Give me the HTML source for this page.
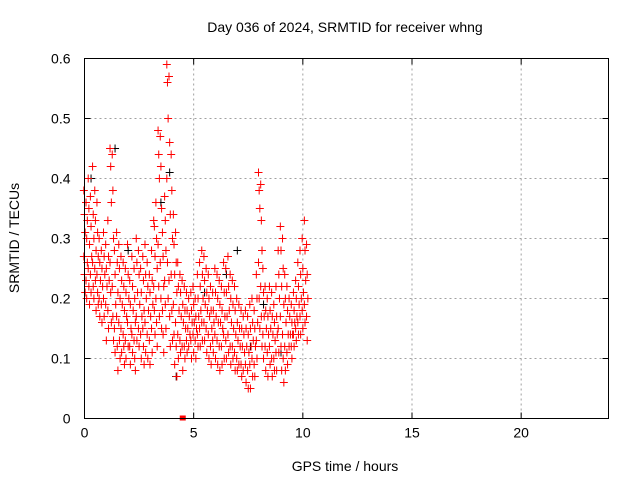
<!DOCTYPE html>
<html><head><meta charset="utf-8"><style>
html,body{margin:0;padding:0;background:#fff;}
svg{display:block;font-family:"Liberation Sans",sans-serif;}
</style></head><body>
<svg id="chart" width="640" height="480" viewBox="0 0 640 480" xmlns="http://www.w3.org/2000/svg">
<text x="345" y="32" font-size="14" text-anchor="middle" fill="#000">Day 036 of 2024, SRMTID for receiver whng</text>
<g id="grid"></g>
<g id="axes"></g>
<g id="marks"></g>
<rect x="84.5" y="58.5" width="524" height="360" fill="none" stroke="#000" stroke-width="1"/>
<text x="345" y="471" font-size="14" text-anchor="middle">GPS time / hours</text>
<text transform="translate(19,238) rotate(-90)" font-size="14" text-anchor="middle">SRMTID / TECUs</text>
</svg>
<script>
const xTicks=[0,5,10,15,20];
const yTicks=[0,0.1,0.2,0.3,0.4,0.5,0.6];
const yTickLabels=["0","0.1","0.2","0.3","0.4","0.5","0.6"];
const gpsTimes=[0.0,0.1,0.2,0.3,0.4,0.5,0.6,0.7,0.8,0.9,1.0,1.1,1.2,1.3,1.4,1.5,1.6,1.7,1.8,1.9,2.0,2.1,2.2,2.3,2.4,2.5,2.6,2.7,2.8,2.9,3.0,3.1,3.2,3.3,3.4,3.5,3.6,3.7,3.8,3.9,4.0,4.1,4.2,4.3,4.4,4.5,4.6,4.7,4.8,4.9,5.0,5.1,5.2,5.3,5.4,5.5,5.6,5.7,5.8,5.9,6.0,6.1,6.2,6.3,6.4,6.5,6.6,6.7,6.8,6.9,7.0,7.1,7.2,7.3,7.4,7.5,7.6,7.7,7.8,7.9,8.0,8.1,8.2,8.3,8.4,8.5,8.6,8.7,8.8,8.9,9.0,9.1,9.2,9.3,9.4,9.5,9.6,9.7,9.8,9.9,10.0,10.1,10.2];
const srmtidValues=[
[0.38,0.34,0.31,0.27,0.24,0.21],[0.36,0.30,0.26,0.23,0.20,0.33],[0.40,0.35,0.29,0.25,0.22,0.19],[0.37,0.32,0.27,0.24,0.21],[0.42,0.34,0.30,0.26,0.22,0.20],
[0.38,0.33,0.28,0.25,0.23,0.18],[0.36,0.31,0.27,0.24,0.21,0.19],[0.30,0.26,0.23,0.20,0.17],[0.28,0.25,0.22,0.19,0.16],[0.31,0.27,0.24,0.20,0.17],
[0.29,0.25,0.22,0.19,0.13],[0.33,0.27,0.23,0.18,0.15],[0.45,0.42,0.36,0.26,0.21,0.16],[0.44,0.38,0.30,0.22,0.17,0.13],[0.28,0.24,0.19,0.15,0.11],
[0.31,0.26,0.21,0.17,0.12,0.08],[0.29,0.25,0.20,0.16,0.13,0.10],[0.27,0.23,0.19,0.15,0.11],[0.26,0.22,0.18,0.14,0.12,0.09],[0.25,0.21,0.17,0.13,0.10],
[0.29,0.24,0.20,0.16,0.12],[0.23,0.19,0.15,0.12,0.09],[0.27,0.22,0.18,0.14,0.11],[0.25,0.20,0.16,0.13,0.10,0.08],[0.30,0.26,0.21,0.17,0.13],
[0.28,0.24,0.19,0.15,0.12],[0.25,0.21,0.17,0.14,0.10],[0.27,0.23,0.18,0.15,0.12,0.09],[0.29,0.24,0.20,0.16,0.11],[0.26,0.22,0.18,0.14,0.10],
[0.24,0.21,0.17,0.13,0.09],[0.28,0.23,0.19,0.15,0.11],[0.33,0.32,0.27,0.22,0.18,0.14],[0.36,0.30,0.25,0.20,0.16,0.12],[0.48,0.44,0.40,0.29,0.22,0.17],
[0.47,0.42,0.35,0.26,0.20,0.15],[0.31,0.27,0.22,0.18,0.14,0.11],[0.37,0.33,0.28,0.23,0.19,0.15],[0.59,0.56,0.50,0.40,0.26,0.20],[0.57,0.46,0.34,0.23,0.17,0.12],
[0.44,0.38,0.30,0.24,0.18,0.13],[0.34,0.29,0.24,0.19,0.14,0.09],[0.31,0.26,0.21,0.16,0.12,0.07],[0.26,0.22,0.18,0.14,0.10],[0.24,0.21,0.17,0.13,0.11],
[0.23,0.19,0.16,0.12,0.08],[0.22,0.18,0.15,0.12,0.10],[0.21,0.18,0.15,0.13,0.11],[0.20,0.17,0.14,0.12],[0.21,0.18,0.16,0.13,0.10],
[0.22,0.19,0.16,0.14,0.11],[0.20,0.17,0.15,0.13,0.10],[0.24,0.20,0.17,0.14,0.12],[0.26,0.22,0.18,0.15,0.12],[0.28,0.24,0.20,0.16,0.13],
[0.27,0.23,0.19,0.16,0.13],[0.25,0.21,0.18,0.15,0.11],[0.24,0.20,0.17,0.14,0.10],[0.22,0.18,0.15,0.12,0.09],[0.21,0.18,0.16,0.13,0.11],
[0.25,0.21,0.17,0.14,0.10],[0.24,0.20,0.16,0.13,0.09],[0.23,0.19,0.16,0.12,0.08],[0.22,0.18,0.15,0.12,0.09],[0.26,0.21,0.17,0.14,0.10],
[0.25,0.21,0.17,0.13,0.10],[0.27,0.22,0.18,0.14,0.11],[0.24,0.20,0.16,0.12,0.09],[0.23,0.19,0.15,0.12,0.10],[0.22,0.18,0.14,0.11,0.08],
[0.20,0.16,0.13,0.10,0.08],[0.19,0.15,0.12,0.09],[0.18,0.15,0.12,0.09,0.07],[0.17,0.14,0.11,0.08],[0.18,0.15,0.12,0.09,0.06],
[0.17,0.14,0.11,0.08,0.05],[0.19,0.15,0.12,0.09,0.05],[0.20,0.16,0.13,0.10,0.07],[0.18,0.15,0.12,0.09,0.07],[0.24,0.20,0.16,0.13,0.10],
[0.41,0.38,0.35,0.26,0.20,0.15],[0.39,0.33,0.28,0.22,0.17,0.12],[0.25,0.21,0.17,0.14,0.10],[0.22,0.18,0.15,0.12,0.08],[0.20,0.17,0.14,0.11,0.07],
[0.22,0.18,0.15,0.12,0.09],[0.21,0.17,0.14,0.10,0.07],[0.19,0.16,0.13,0.10,0.08],[0.22,0.17,0.14,0.11,0.08],[0.28,0.24,0.20,0.15,0.11],
[0.32,0.28,0.22,0.17,0.12,0.08],[0.30,0.25,0.19,0.14,0.10,0.06],[0.24,0.20,0.16,0.12,0.08],[0.22,0.18,0.14,0.11,0.09],[0.20,0.17,0.14,0.12],
[0.19,0.16,0.14,0.12,0.10],[0.21,0.18,0.16,0.14,0.12],[0.23,0.20,0.17,0.15,0.13],[0.26,0.22,0.19,0.16,0.14],[0.28,0.24,0.20,0.17,0.14],
[0.30,0.25,0.21,0.18,0.15],[0.33,0.28,0.23,0.19,0.16],[0.29,0.24,0.20,0.17,0.13]
];
const blackTimes=[0.3,1.4,2.0,3.5,3.9,4.2,5.5,6.5,7.0,7.6,8.2,9.0];
const blackValues=[0.40,0.45,0.28,0.36,0.41,0.07,0.21,0.24,0.28,0.12,0.19,0.11];
const zeroTimes=[4.5];
const zeroValues=[0];

const L=84.5,R=608.5,T=58.5,B=418.5,XMAX=24,YMAX=0.6;
const xs=t=>L+(t/XMAX)*(R-L);
const ys=v=>B-(v/YMAX)*(B-T);
const NS="http://www.w3.org/2000/svg";
function mk(tag,attrs,parent){const e=document.createElementNS(NS,tag);for(const k in attrs)e.setAttribute(k,attrs[k]);parent.appendChild(e);return e;}
const grid=document.getElementById('grid'),axes=document.getElementById('axes'),marks=document.getElementById('marks');
xTicks.forEach(t=>{
  const x=xs(t);
  if(t>0){const g=mk('line',{x1:x,x2:x,y1:T,y2:B,stroke:'#a0a0a0','stroke-dasharray':'2,3'},grid);
  
  }
  const a=mk('path',{d:`M${x},${B}v-6M${x},${T}v6`,stroke:'#000'},axes);
  
  
  const tx=mk('text',{x:x,y:B+19,'font-size':14,'text-anchor':'middle'},axes);tx.textContent=t;
  
  
});
yTicks.forEach((v,i)=>{
  const y=ys(v);
  if(v>0&&v<YMAX){const g=mk('line',{x1:L,x2:R,y1:y,y2:y,stroke:'#a0a0a0','stroke-dasharray':'2,3'},grid);
  
  }
  const a=mk('path',{d:`M${L},${y}h6M${R},${y}h-6`,stroke:'#000'},axes);
  
  
  const tx=mk('text',{x:L-14,y:y+5,'font-size':14,'text-anchor':'end'},axes);tx.textContent=yTickLabels[i];
  
  
});
function plus(t,v,color,name){
  const x=xs(t),y=ys(v);
  const p=mk('path',{d:`M${x-4},${y}h8M${x},${y-4}v8`,stroke:color,'stroke-width':1},marks);
  
  
}
blackTimes.forEach((t,i)=>plus(t,blackValues[i],'#000','black-point'));
gpsTimes.forEach((t,i)=>{
  const vals=srmtidValues[i];
  vals.forEach((v,j)=>plus(t+(j%3)*0.03-0.03,v,'#f00','srmtid-point'));
});
zeroTimes.forEach((t,i)=>{
  const r=mk('rect',{x:xs(t)-3,y:ys(zeroValues[i])-3,width:6,height:5,fill:'#f00'},marks);
  
  
});
</script>
</body></html>
